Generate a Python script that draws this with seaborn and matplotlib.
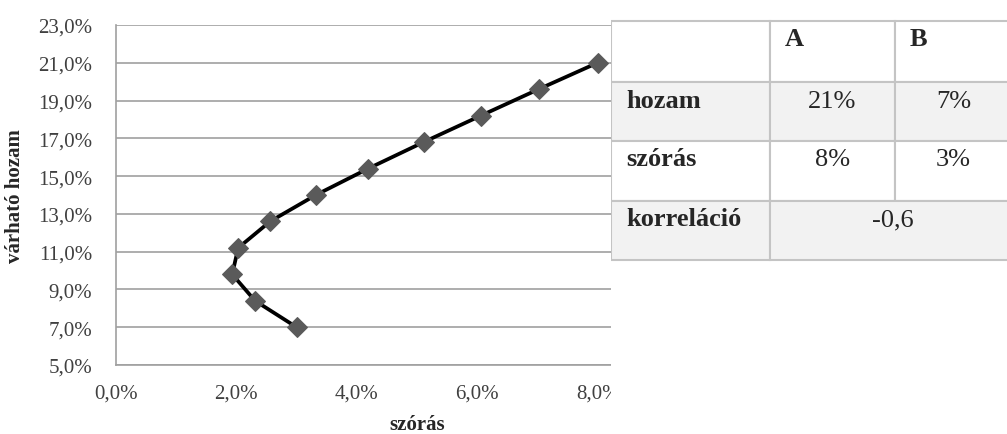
import matplotlib
matplotlib.use("Agg")
import matplotlib.pyplot as plt
import matplotlib.ticker as mticker
from matplotlib.patches import Rectangle
import pandas as pd
import seaborn as sns

# portfolio points (A share 0 .. 100 %)
szoras = [0.0300, 0.0231, 0.0193, 0.0203, 0.0256, 0.0332, 0.0419, 0.0511, 0.0606, 0.0702, 0.0800]
hozam = [0.070, 0.084, 0.098, 0.112, 0.126, 0.140, 0.154, 0.168, 0.182, 0.196, 0.210]

# side table
table_header = ["", "A", "B"]
table_rows = ["hozam", "szórás", "korreláció"]
table_a = ["21%", "8%"]
table_b = ["7%", "3%"]
korrelacio = "-0,6"

sns.set_style("white")
plt.rcParams['font.family'] = ['Liberation Serif', 'DejaVu Serif']

W, H = 1007, 435
fig = plt.figure(figsize=(W / 100, H / 100), dpi=100)
ax = fig.add_axes([116 / W, 69 / H, 602 / W, 340 / H])

df = pd.DataFrame({'szoras': szoras, 'hozam': hozam})
sns.lineplot(data=df, x='szoras', y='hozam', sort=False, estimator=None, ax=ax,
             color='black', linewidth=2.7, marker='D', markersize=10,
             markerfacecolor='#5a5a5a', markeredgecolor='#5a5a5a', zorder=3)

ax.set_xlim(0, 0.10)
ax.set_ylim(0.05, 0.23)
ax.set_xticks([0, 0.02, 0.04, 0.06, 0.08, 0.10])
ax.set_yticks([0.05 + 0.02 * i for i in range(10)])
pct = mticker.FuncFormatter(lambda v, p: f"{v * 100:.1f}%".replace('.', ','))
ax.xaxis.set_major_formatter(pct)
ax.yaxis.set_major_formatter(pct)
ax.tick_params(axis='both', length=0, labelsize=15, labelcolor='#404040')
ax.tick_params(axis='x', pad=13)
ax.tick_params(axis='y', pad=17)
ax.grid(axis='y', color='#a0a0a0', linewidth=1.2)
ax.grid(axis='x', visible=False)
for side in ['left', 'bottom']:
    ax.spines[side].set_color('#a0a0a0')
    ax.spines[side].set_linewidth(1.2)
ax.spines['top'].set_visible(False)
ax.spines['right'].set_visible(False)
ax.set_xlabel('')
ax.set_ylabel('várható hozam', fontsize=15, fontweight='bold')
ax.yaxis.set_label_coords(-91 / 602, 0.5)
fig.text(417 / W, 5 / H, 'szórás', ha='center', va='baseline', fontsize=15, fontweight='bold')

# table pasted over the right part of the chart
tab = fig.add_axes([611 / W, 0, (W - 611) / W, 1], zorder=5)
tab.set_xlim(611, W)
tab.set_ylim(H, 0)
tab.axis('off')
tab.add_patch(Rectangle((611, 0), W - 611, H, facecolor='white', edgecolor='none'))

col_x = [611, 770, 895, 1020]
row_y = [22, 83, 142, 202, 261]
fills = ['white', '#f2f2f2', 'white', '#f2f2f2']
edge = '#c4c4c4'
for r in range(4):
    y0, y1 = row_y[r], row_y[r + 1]
    if r == 3:
        cells = [(col_x[0], col_x[1]), (col_x[1], col_x[3])]
    else:
        cells = [(col_x[c], col_x[c + 1]) for c in range(3)]
    for x0, x1 in cells:
        tab.add_patch(Rectangle((x0, y0), x1 - x0, y1 - y0, facecolor=fills[r],
                                edgecolor=edge, linewidth=1.5))

base = 24.5
fs = 19
for c, txt in enumerate(table_header):
    if txt:
        tab.text(col_x[c] + 15, row_y[0] + base, txt, fontsize=fs, fontweight='bold',
                 va='baseline', ha='left')
for r, name in enumerate(table_rows):
    tab.text(626, row_y[r + 1] + base, name, fontsize=fs, fontweight='bold',
             va='baseline', ha='left')
for r in range(2):
    tab.text((col_x[1] + col_x[2]) / 2, row_y[r + 1] + base, table_a[r], fontsize=fs,
             va='baseline', ha='center')
    tab.text((col_x[2] + col_x[3]) / 2 - 4, row_y[r + 1] + base, table_b[r], fontsize=fs,
             va='baseline', ha='center')
tab.text(893, row_y[3] + base, korrelacio, fontsize=fs, va='baseline', ha='center')

fig.savefig('out.png', dpi=100)
